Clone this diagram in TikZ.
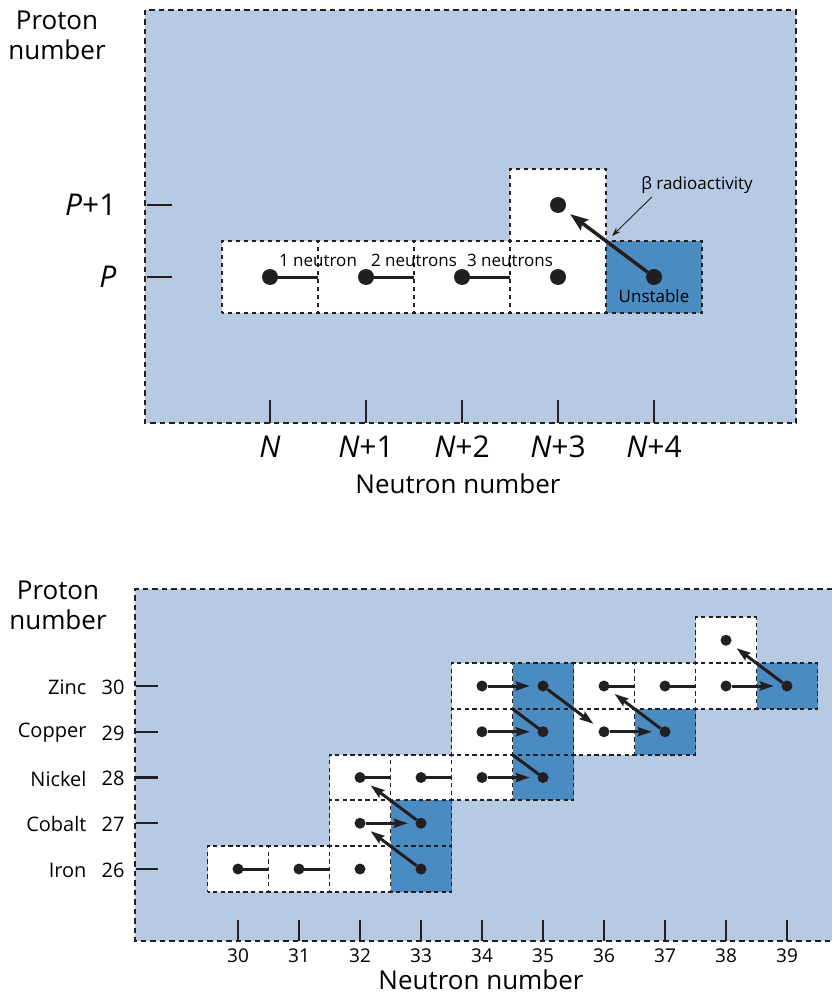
\documentclass[tikz,border=0pt]{standalone}
\usepackage{fontspec}
\setmainfont{Open Sans}
\usetikzlibrary{positioning, arrows.meta}
\definecolor{panelblue}{RGB}{182, 202, 227}
\definecolor{cellblue}{RGB}{74, 139, 194}
\definecolor{ink}{RGB}{35, 31, 32}
\tikzset{
  border/.style={draw=ink, line width=1.8pt, dash pattern=on 5.5pt off 4pt},
  panel/.style={border, fill=panelblue},
  cell/.style={
    draw=ink, line width=1.8pt, fill=white,
    inner sep=0pt, outer sep=0pt
  },
  % dash period divides the cell sides, so shared sides line up
  bigcell/.style={cell, dash pattern=on 4.5pt off 3.5pt, dash phase=2.25pt,
    minimum width=96pt, minimum height=72pt},
  smallcell/.style={cell, dash pattern=on 4.3pt off 3.325pt, dash phase=2.15pt,
    minimum width=61pt, minimum height=45.75pt},
  unstable/.style={fill=cellblue},
  nucleus/.style={circle, fill=ink, inner sep=0pt, minimum size=16pt},
  smallnucleus/.style={circle, fill=ink, inner sep=0pt, minimum size=11pt},
  link/.style={draw=ink, line width=3pt},
  decay/.style={draw=ink, line width=3.5pt, -{Stealth[length=18pt, width=13pt, inset=3pt]}, shorten >=7pt},
  smalldecay/.style={draw=ink, line width=3pt, -{Stealth[length=14pt, width=9pt, inset=2pt]}, shorten >=7.5pt},
  pointer/.style={draw=ink, line width=0.9pt, -{Stealth[length=9pt, width=6pt]}},
  tick/.style={draw=ink, line width=1.7pt}
}

\begin{document}
\begin{tikzpicture}[
  x=1pt, y=-1pt,
  axistitle/.style={font=\fontsize{26}{30}\selectfont, align=center},
  axislbl/.style={font=\fontsize{30}{34}\selectfont},
  note/.style={font=\fontsize{17}{20}\selectfont},
  element/.style={font=\fontsize{20}{24}\selectfont, anchor=east},
  numlbl/.style={font=\fontsize{19}{22}\selectfont},
]
\useasboundingbox (0,0) rectangle (832,998);

% ---- Upper chart: one nucleus and its neighbours ----
\path[panel] (145,10) rectangle (796,423);

% Cells
\node[bigcell] (t0) at (270,277) {};
\node[bigcell] (t1) at (366,277) {};
\node[bigcell] (t2) at (462,277) {};
\node[bigcell] (t3) at (558,277) {};
\node[bigcell, unstable] (t4) at (654,277) {};
\node[bigcell] (tup) at (558,205) {};

% Nuclei
\node[nucleus] (n0) at (t0) {};
\node[nucleus] (n1) at (t1) {};
\node[nucleus] (n2) at (t2) {};
\node[nucleus] (n3) at (t3) {};
\node[nucleus] (n4) at (t4) {};
\node[nucleus] (nup) at (tup) {};

% Added neutrons
\draw[link] (n0.center) -- (t0.east);
\draw[link] (n1.center) -- (t1.east);
\draw[link] (n2.center) -- (t2.east);
\node[note, above=7pt of t0.east] (lbl1) {1 neutron};
\node[note, above=7pt of t1.east] (lbl2) {2 neutrons};
\node[note, above=7pt of t2.east] (lbl3) {3 neutrons};

% Beta decay
\draw[decay] (n4) -- (nup);
\node[note, below=1pt of n4] (unst) {Unstable};
\node[note] (betalbl) at (697,185) {β radioactivity};
\coordinate (betatip) at (612,236);
\draw[pointer] ([xshift=14pt]betalbl.south west) -- (betatip);

% Axes
\draw[tick] (147,205) -- (172,205);
\draw[tick] (147,277) -- (172,277);
\node[axislbl, anchor=east] (pplus) at (120,205) {\itshape P\upshape+1};
\node[axislbl, anchor=east] (pzero) at (120,277) {\itshape P};
\draw[tick] (270,400) -- (270,423);
\draw[tick] (366,400) -- (366,423);
\draw[tick] (462,400) -- (462,423);
\draw[tick] (558,400) -- (558,423);
\draw[tick] (654,400) -- (654,423);
\node[axislbl] (nn0) at (270,447) {\itshape N};
\node[axislbl] (nn1) at (366,447) {{\itshape N}+1};
\node[axislbl] (nn2) at (462,447) {{\itshape N}+2};
\node[axislbl] (nn3) at (558,447) {{\itshape N}+3};
\node[axislbl] (nn4) at (654,447) {{\itshape N}+4};
\node[axistitle] (xtitle) at (458,484) {Neutron number};
\node[axistitle] (ytitle) at (57,35) {Proton\\number};

% ---- Lower chart: iron to zinc ----
\path[fill=panelblue] (135,589) rectangle (832,941);
\draw[border] (832,589) -- (135,589) -- (135,941) -- (832,941);

% Cells (neutron-proton)
\node[smallcell] (c30-26) at (238,869) {};
\node[smallcell] (c31-26) at (299,869) {};
\node[smallcell] (c32-26) at (360,869) {};
\node[smallcell, unstable] (c33-26) at (421,869) {};
\node[smallcell] (c32-27) at (360,823.25) {};
\node[smallcell, unstable] (c33-27) at (421,823.25) {};
\node[smallcell] (c32-28) at (360,777.5) {};
\node[smallcell] (c33-28) at (421,777.5) {};
\node[smallcell] (c34-28) at (482,777.5) {};
\node[smallcell, unstable] (c35-28) at (543,777.5) {};
\node[smallcell] (c34-29) at (482,731.75) {};
\node[smallcell, unstable] (c35-29) at (543,731.75) {};
\node[smallcell] (c36-29) at (604,731.75) {};
\node[smallcell, unstable] (c37-29) at (665,731.75) {};
\node[smallcell] (c34-30) at (482,686) {};
\node[smallcell, unstable] (c35-30) at (543,686) {};
\node[smallcell] (c36-30) at (604,686) {};
\node[smallcell] (c37-30) at (665,686) {};
\node[smallcell] (c38-30) at (726,686) {};
\node[smallcell, unstable] (c39-30) at (787,686) {};
\node[smallcell] (c38-31) at (726,640.25) {};

% Nuclei
\node[smallnucleus] (d30-26) at (c30-26) {};
\node[smallnucleus] (d31-26) at (c31-26) {};
\node[smallnucleus] (d32-26) at (c32-26) {};
\node[smallnucleus] (d33-26) at (c33-26) {};
\node[smallnucleus] (d32-27) at (c32-27) {};
\node[smallnucleus] (d33-27) at (c33-27) {};
\node[smallnucleus] (d32-28) at (c32-28) {};
\node[smallnucleus] (d33-28) at (c33-28) {};
\node[smallnucleus] (d34-28) at (c34-28) {};
\node[smallnucleus] (d35-28) at (c35-28) {};
\node[smallnucleus] (d34-29) at (c34-29) {};
\node[smallnucleus] (d35-29) at (c35-29) {};
\node[smallnucleus] (d36-29) at (c36-29) {};
\node[smallnucleus] (d37-29) at (c37-29) {};
\node[smallnucleus] (d34-30) at (c34-30) {};
\node[smallnucleus] (d35-30) at (c35-30) {};
\node[smallnucleus] (d36-30) at (c36-30) {};
\node[smallnucleus] (d37-30) at (c37-30) {};
\node[smallnucleus] (d38-30) at (c38-30) {};
\node[smallnucleus] (d39-30) at (c39-30) {};
\node[smallnucleus] (d38-31) at (c38-31) {};

% Neutron capture
\draw[link] (d30-26.center) -- (c30-26.east);
\draw[link] (d31-26.center) -- (c31-26.east);
\draw[link] (d32-28.center) -- (c32-28.east);
\draw[link] (d33-28.center) -- (c33-28.east);
\draw[link] (d36-30.center) -- (c36-30.east);
\draw[link] (d37-30.center) -- (c37-30.east);
\draw[smalldecay] (d32-27) -- (d33-27);
\draw[smalldecay] (d34-28) -- (d35-28);
\draw[smalldecay] (d34-29) -- (d35-29);
\draw[smalldecay] (d36-29) -- (d37-29);
\draw[smalldecay] (d34-30) -- (d35-30);
\draw[smalldecay] (d38-30) -- (d39-30);

% Decays
\draw[smalldecay] (d33-26) -- (d32-27);
\draw[smalldecay] (d33-27) -- (d32-28);
\draw[smalldecay] (d35-30) -- (d36-29);
\draw[smalldecay] (d37-29) -- (d36-30);
\draw[smalldecay] (d39-30) -- (d38-31);
\draw[link] (d35-28.center) -- (c35-28.north west);
\draw[link] (d35-29.center) -- (c35-29.north west);

% Proton axis
\draw[tick, line width=2.2pt] (136,686) -- (158,686);
\draw[tick, line width=2.2pt] (136,731.75) -- (158,731.75);
\draw[tick, line width=2.2pt] (136,777.5) -- (158,777.5);
\draw[tick, line width=2.2pt] (136,823.25) -- (158,823.25);
\draw[tick, line width=2.2pt] (136,869) -- (158,869);
\node[element] (zn) at (90,687) {Zinc};
\node[element] (cu) at (90,733) {Copper};
\node[element] (ni) at (90,778.5) {Nickel};
\node[element] (co) at (90,824) {Cobalt};
\node[element] (fe) at (90,870) {Iron};
\node[element] (z30) at (128,687) {30};
\node[element] (z29) at (128,733) {29};
\node[element] (z28) at (128,778.5) {28};
\node[element] (z27) at (128,824) {27};
\node[element] (z26) at (128,870) {26};

% Neutron axis
\draw[tick] (238,920) -- (238,941);
\draw[tick] (299,920) -- (299,941);
\draw[tick] (360,920) -- (360,941);
\draw[tick] (421,920) -- (421,941);
\draw[tick] (482,920) -- (482,941);
\draw[tick] (543,920) -- (543,941);
\draw[tick] (604,920) -- (604,941);
\draw[tick] (665,920) -- (665,941);
\draw[tick] (726,920) -- (726,941);
\draw[tick] (787,920) -- (787,941);
\node[numlbl] (x30) at (238,956) {30};
\node[numlbl] (x31) at (299,956) {31};
\node[numlbl] (x32) at (360,956) {32};
\node[numlbl] (x33) at (421,956) {33};
\node[numlbl] (x34) at (482,956) {34};
\node[numlbl] (x35) at (543,956) {35};
\node[numlbl] (x36) at (604,956) {36};
\node[numlbl] (x37) at (665,956) {37};
\node[numlbl] (x38) at (726,956) {38};
\node[numlbl] (x39) at (787,956) {39};
\node[axistitle] (xtitle2) at (481,980) {Neutron number};
\node[axistitle] (ytitle2) at (58,605) {Proton\\number};

\end{tikzpicture}
\end{document}
